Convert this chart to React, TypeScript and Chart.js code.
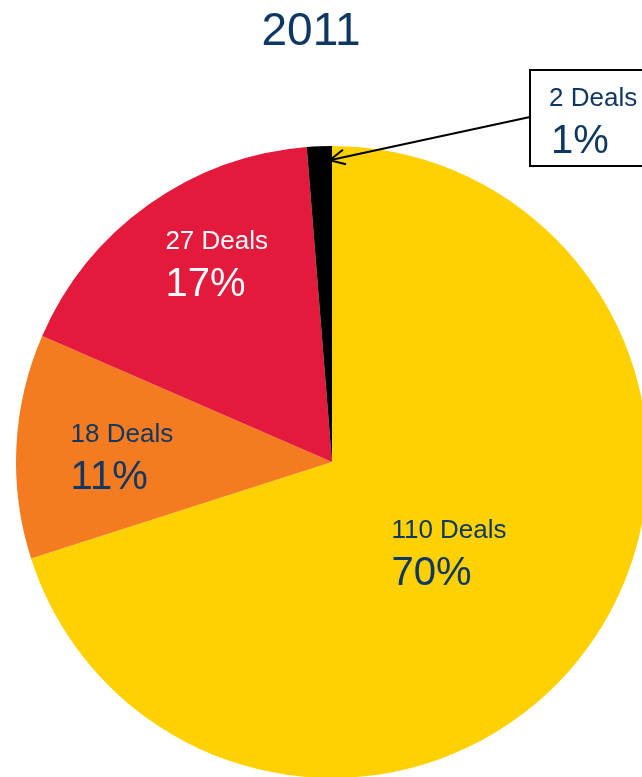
import React, { useEffect, useRef } from "react";
import { Chart, registerables } from "chart.js";

Chart.register(...registerables);

const title = "2011";
const dealLabels = ["110 Deals", "18 Deals", "27 Deals", "2 Deals"];
const dealCounts = [110, 18, 27, 2];
const percentLabels = ["70%", "11%", "17%", "1%"];
const sliceColors = ["#FFD100", "#F47B20", "#E31A3B", "#000000"];
const textColors = ["#0F3764", "#0F3764", "#FFFFFF", "#0F3764"];
// position of each inner label: fraction along the slice angle, fraction of radius
const labelAngleFrac = [0.507, 0.465, 0.586, -1];
const labelRadiusFrac = [0.469, 0.665, 0.725, -1];

const NAVY = "#0F3764";
const FONT = "'Liberation Sans', Arial, Helvetica, sans-serif";

const labelPlugin = {
  id: "pieLabels",
  afterDraw(chart: any) {
    const ctx = chart.ctx as CanvasRenderingContext2D;
    const meta = chart.getDatasetMeta(0);
    ctx.save();
    // Title
    ctx.fillStyle = NAVY;
    ctx.font = `46px ${FONT}`;
    ctx.textAlign = "center";
    ctx.textBaseline = "alphabetic";
    ctx.fillText(title, 311, 45);

    ctx.textAlign = "left";
    meta.data.forEach((arc: any, i: number) => {
      const p = arc.getProps(["x", "y", "startAngle", "endAngle", "outerRadius"], true);
      if (labelAngleFrac[i] >= 0) {
        const a = p.startAngle + (p.endAngle - p.startAngle) * labelAngleFrac[i];
        const r = p.outerRadius * labelRadiusFrac[i];
        const cx = p.x + r * Math.cos(a);
        const cy = p.y + r * Math.sin(a);
        ctx.font = `26px ${FONT}`;
        const w = ctx.measureText(dealLabels[i]).width;
        const left = cx - w / 2;
        ctx.fillStyle = textColors[i];
        ctx.fillText(dealLabels[i], left, cy - 15);
        ctx.font = `40px ${FONT}`;
        ctx.fillText(percentLabels[i], left, cy + 32);
      } else {
        // callout box with arrow
        const boxL = 530, boxT = 70, boxB = 166, boxR = 700;
        const a = p.endAngle - (p.endAngle - p.startAngle) * 0.1;
        const tr = p.outerRadius * 0.955;
        const tx = p.x + tr * Math.cos(a);
        const ty = p.y + tr * Math.sin(a);
        const sx = boxL, sy = 117;
        ctx.strokeStyle = "#000";
        ctx.lineWidth = 2;
        ctx.beginPath();
        ctx.moveTo(sx, sy);
        ctx.lineTo(tx, ty);
        ctx.stroke();
        const ang = Math.atan2(ty - sy, tx - sx);
        const hl = 17, hw = 0.45;
        ctx.beginPath();
        ctx.moveTo(tx - hl * Math.cos(ang - hw), ty - hl * Math.sin(ang - hw));
        ctx.lineTo(tx, ty);
        ctx.lineTo(tx - hl * Math.cos(ang + hw), ty - hl * Math.sin(ang + hw));
        ctx.stroke();
        ctx.fillStyle = "#FFFFFF";
        ctx.fillRect(boxL, boxT, boxR - boxL, boxB - boxT);
        ctx.strokeRect(boxL, boxT, boxR - boxL, boxB - boxT);
        ctx.fillStyle = textColors[i];
        ctx.font = `26px ${FONT}`;
        ctx.fillText(dealLabels[i], 549, 106);
        ctx.font = `40px ${FONT}`;
        ctx.fillText(percentLabels[i], 551, 153);
      }
    });
    ctx.restore();
  },
};

export default function App() {
  const ref = useRef<HTMLCanvasElement>(null);
  useEffect(() => {
    if (!ref.current) return;
    const chart = new Chart(ref.current, {
      type: "pie",
      data: {
        labels: dealLabels,
        datasets: [
          {
            data: dealCounts,
            backgroundColor: sliceColors,
            borderWidth: 0,
          },
        ],
      },
      options: {
        responsive: false,
        animation: false,
        devicePixelRatio: 1,
        layout: { padding: { left: 16, top: 146, right: 52, bottom: 22 } },
        plugins: {
          legend: { display: false },
          tooltip: { enabled: false },
          title: { display: false },
        },
      },
      plugins: [labelPlugin],
    });
    return () => chart.destroy();
  }, []);
  return (
    <div
      style={{
        position: "fixed",
        left: 0,
        top: 0,
        width: 642,
        height: 777,
        overflow: "hidden",
        background: "#fff",
      }}
    >
      <canvas ref={ref} width={700} height={800} style={{ display: "block" }} />
    </div>
  );
}
